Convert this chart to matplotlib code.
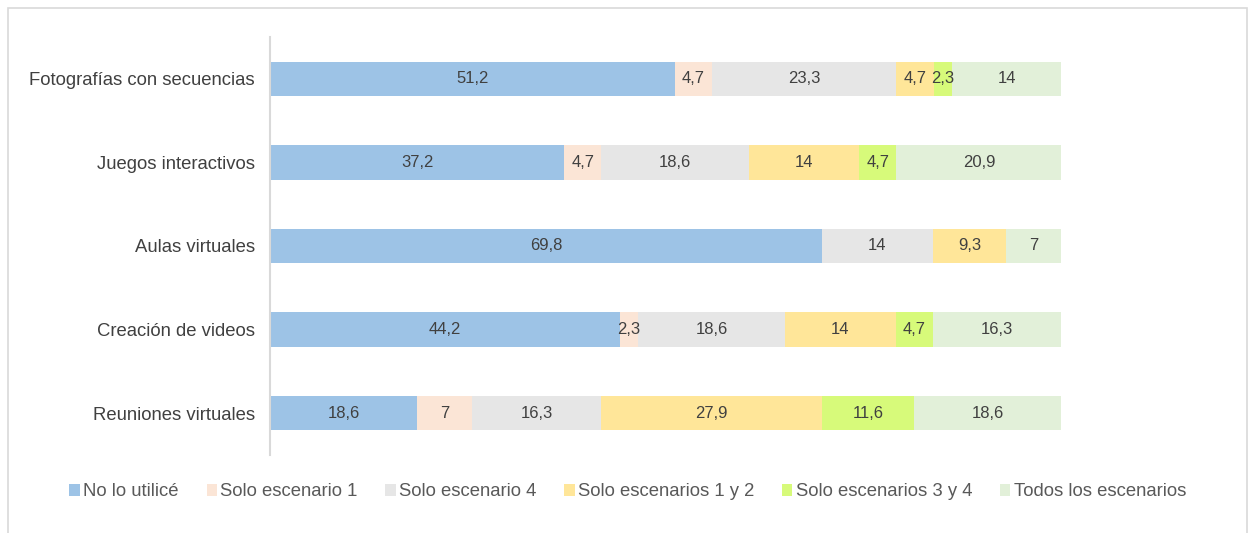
import matplotlib.pyplot as plt
import numpy as np
from matplotlib.patches import Rectangle, Patch

plt.rcParams["font.family"] = ["Liberation Sans", "DejaVu Sans"]

CATEGORIES = [
    "Fotografías con secuencias",
    "Juegos interactivos",
    "Aulas virtuales",
    "Creación de videos",
    "Reuniones virtuales",
]
SERIES = [
    "No lo utilicé",
    "Solo escenario 1",
    "Solo escenario 4",
    "Solo escenarios 1 y 2",
    "Solo escenarios 3 y 4",
    "Todos los escenarios",
]
NO_LO_UTILICE = [51.2, 37.2, 69.8, 44.2, 18.6]
SOLO_ESC_1 = [4.7, 4.7, 0, 2.3, 7]
SOLO_ESC_4 = [23.3, 18.6, 14, 18.6, 16.3]
SOLO_ESC_1_2 = [4.7, 14, 9.3, 14, 27.9]
SOLO_ESC_3_4 = [2.3, 4.7, 0, 4.7, 11.6]
TODOS = [14, 20.9, 7, 16.3, 18.6]

COLORS = ["#9DC3E6", "#FBE5D6", "#E6E6E6", "#FFE699", "#D7FA7A", "#E2F0D9"]


def fmt(v):
    return f"{v:g}".replace(".", ",")


fig = plt.figure(figsize=(12.48, 5.33), dpi=100)
fig.patches.append(
    Rectangle((8 / 1248, -0.05), 1239 / 1248, 1.05 - 8 / 533,
              transform=fig.transFigure, fill=False, edgecolor="#D9D9D9", linewidth=1.2)
)
ax = fig.add_axes([270 / 1248, 1 - 455 / 533, (1061 - 270) / 1248, 418 / 533])

values = [NO_LO_UTILICE, SOLO_ESC_1, SOLO_ESC_4, SOLO_ESC_1_2, SOLO_ESC_3_4, TODOS]
y = np.arange(len(CATEGORIES))
left = np.zeros(len(CATEGORIES))
for name, vals, color in zip(SERIES, values, COLORS):
    vals = np.array(vals, dtype=float)
    ax.barh(y, vals, left=left, height=0.41, color=color, label=name)
    for yi, (l, v) in enumerate(zip(left, vals)):
        if v:
            ax.text(l + v / 2, yi, fmt(v), ha="center", va="center",
                    fontsize=12, color="#404040")
    left += vals

ax.set_xlim(0, 100)
ax.set_ylim(4.5, -0.5)
ax.set_yticks(y)
ax.set_yticklabels(CATEGORIES, fontsize=13.3, color="#404040")
ax.tick_params(axis="y", length=0, pad=11)
ax.set_xticks([])
for s in ["top", "right", "bottom"]:
    ax.spines[s].set_visible(False)
ax.spines["left"].set_color("#D9D9D9")
ax.spines["left"].set_linewidth(1.5)

handles = [Patch(facecolor=c, edgecolor="none") for c in COLORS]
fig.legend(
    handles, SERIES, loc="center", bbox_to_anchor=(628 / 1248, 1 - 492 / 533),
    ncol=6, frameon=False, fontsize=13.3, handlelength=0.55, handleheight=0.55,
    handletextpad=0.2, columnspacing=1.5, labelcolor="#595959",
)

fig.savefig("out.png", dpi=100)
